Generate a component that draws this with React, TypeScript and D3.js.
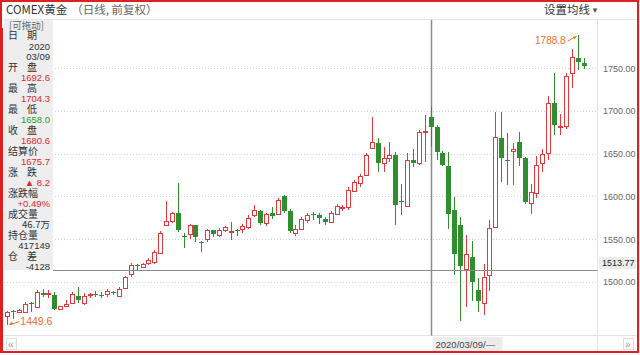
import React from 'react';
import * as d3 from 'd3';

const dates = [
  '2019-11-25','2019-11-26','2019-11-27','2019-11-29','2019-12-02','2019-12-03','2019-12-04','2019-12-05','2019-12-06',
  '2019-12-09','2019-12-10','2019-12-11','2019-12-12','2019-12-13','2019-12-16','2019-12-17','2019-12-18','2019-12-19',
  '2019-12-20','2019-12-23','2019-12-24','2019-12-26','2019-12-27','2019-12-30','2019-12-31','2020-01-02','2020-01-03',
  '2020-01-06','2020-01-07','2020-01-08','2020-01-09','2020-01-10','2020-01-13','2020-01-14','2020-01-15','2020-01-16',
  '2020-01-17','2020-01-20','2020-01-21','2020-01-22','2020-01-23','2020-01-24','2020-01-27','2020-01-28','2020-01-29',
  '2020-01-30','2020-01-31','2020-02-03','2020-02-04','2020-02-05','2020-02-06','2020-02-07','2020-02-10','2020-02-11',
  '2020-02-12','2020-02-13','2020-02-14','2020-02-17','2020-02-18','2020-02-19','2020-02-20','2020-02-21','2020-02-24',
  '2020-02-25','2020-02-26','2020-02-27','2020-02-28','2020-03-02','2020-03-03','2020-03-04','2020-03-05','2020-03-06',
  '2020-03-09','2020-03-10','2020-03-11','2020-03-12','2020-03-13','2020-03-16','2020-03-17','2020-03-18','2020-03-19',
  '2020-03-20','2020-03-23','2020-03-24','2020-03-25','2020-03-26','2020-03-27','2020-03-30','2020-03-31','2020-04-01',
  '2020-04-02','2020-04-03','2020-04-06','2020-04-07','2020-04-08','2020-04-09','2020-04-13','2020-04-14','2020-04-15',
];

const opens = [
  1459, 1466, 1465, 1465, 1475, 1471.5, 1487, 1486, 1485,
  1468, 1472, 1475, 1483, 1475, 1485, 1486, 1484, 1485,
  1488, 1484, 1492, 1508, 1520, 1518, 1521, 1523, 1534,
  1566, 1571, 1581, 1554, 1555, 1566, 1547, 1549, 1560,
  1555, 1560, 1558, 1561, 1561, 1565, 1578, 1583, 1568,
  1580, 1580, 1600, 1583, 1557, 1562, 1572, 1579, 1578,
  1574, 1571, 1580, 1586.5, 1587, 1607, 1616, 1625, 1657.5,
  1663, 1639, 1644, 1648, 1595, 1588, 1643, 1639, 1675,
  1692.6, 1681, 1651, 1635, 1584, 1566, 1515, 1529, 1490,
  1474, 1508, 1565, 1668, 1643, 1654, 1664, 1645, 1592,
  1604, 1639, 1650, 1709, 1681, 1682, 1745, 1762, 1756.5,
];
const highs = [
  1466, 1466.5, 1468, 1476, 1476, 1490, 1491, 1490, 1488,
  1472, 1478, 1488, 1494, 1487, 1487, 1489, 1488, 1491,
  1489, 1494, 1507, 1522, 1521, 1522, 1528, 1537, 1559,
  1594, 1582, 1616, 1557, 1568, 1567, 1548, 1562, 1561,
  1563, 1565, 1570, 1562, 1568, 1578, 1590, 1584, 1581,
  1587, 1598, 1601, 1585, 1566, 1576, 1580, 1582, 1581,
  1576, 1583, 1591, 1590, 1611, 1619, 1626, 1651, 1693,
  1668, 1658, 1664, 1652, 1615, 1651, 1655, 1678, 1695,
  1704.3, 1683, 1653, 1652, 1599, 1576, 1555, 1548, 1504,
  1521, 1572, 1699, 1699, 1674, 1662, 1675, 1646, 1614,
  1647, 1655, 1717, 1744, 1697, 1744, 1773, 1788.8, 1762,
];
const lows = [
  1449.6, 1456, 1464, 1463, 1464, 1470, 1482, 1481, 1467,
  1467, 1471, 1474, 1475.5, 1473, 1481, 1482, 1481, 1482,
  1485, 1483, 1491, 1506, 1514, 1517, 1519, 1521, 1533,
  1565, 1569, 1558.5, 1540, 1550, 1547, 1535, 1547, 1552,
  1552, 1558, 1549, 1553, 1557, 1562, 1576, 1567, 1565,
  1574, 1578, 1581, 1557, 1553, 1560, 1569, 1572, 1568,
  1566, 1569, 1578, 1583, 1584, 1605, 1611, 1624, 1657,
  1629, 1629, 1640, 1567, 1578, 1587, 1634.5, 1637, 1640,
  1658.0, 1643, 1635, 1562, 1508, 1454, 1470, 1477, 1464,
  1461, 1489, 1563, 1617, 1613, 1613, 1635, 1591, 1579,
  1598, 1628, 1642, 1672, 1672, 1679, 1727, 1748, 1749,
];
const closes = [
  1464, 1465.5, 1467, 1474, 1474, 1488.5, 1485, 1486.5, 1469,
  1471, 1474, 1486, 1478, 1483, 1485.5, 1485, 1483.5, 1489,
  1487, 1492, 1505, 1519, 1519, 1521, 1525, 1535, 1557,
  1571, 1580, 1561.5, 1553, 1566, 1552, 1546, 1560, 1555,
  1561, 1564, 1559, 1560, 1565, 1575, 1584, 1568.5, 1579,
  1576, 1596, 1583, 1560, 1562, 1574, 1578, 1578, 1574,
  1571, 1581, 1589, 1587, 1607, 1617, 1624, 1648, 1664,
  1639, 1645, 1648, 1590, 1594, 1642, 1640, 1675, 1676,
  1680.6, 1652, 1637, 1579, 1532, 1518, 1532, 1500, 1477,
  1505, 1563, 1670, 1645, 1642, 1656, 1645, 1594, 1605,
  1637, 1650, 1709, 1683, 1682.5, 1741, 1763.5, 1757, 1753.5,
];

const yTicks = [1500, 1550, 1600, 1650, 1700, 1750];
const crossDate = '2020-03-09';
const crossPrice = 1513.77;
const minLabel = '1449.6';
const maxLabel = '1788.8';

const panelRows = [
  { text: '[可拖动]', kind: 'hint' },
  { text: '日期', kind: 'label' },
  { text: '2020', kind: 'value', color: '#333' },
  { text: '03/09', kind: 'value', color: '#333' },
  { text: '开盘', kind: 'label' },
  { text: '1692.6', kind: 'value', color: '#e0282e' },
  { text: '最高', kind: 'label' },
  { text: '1704.3', kind: 'value', color: '#e0282e' },
  { text: '最低', kind: 'label' },
  { text: '1658.0', kind: 'value', color: '#2f9a2f' },
  { text: '收盘', kind: 'label' },
  { text: '1680.6', kind: 'value', color: '#e0282e' },
  { text: '结算价', kind: 'label' },
  { text: '1675.7', kind: 'value', color: '#e0282e' },
  { text: '涨跌', kind: 'label' },
  { text: '▲ 8.2', kind: 'value', color: '#e0282e' },
  { text: '涨跌幅', kind: 'label' },
  { text: '+0.49%', kind: 'value', color: '#e0282e' },
  { text: '成交量', kind: 'label' },
  { text: '46.7万', kind: 'value', color: '#333' },
  { text: '持仓量', kind: 'label' },
  { text: '417149', kind: 'value', color: '#333' },
  { text: '仓差', kind: 'label' },
  { text: '-4128', kind: 'value', color: '#333' },
];

const RED = '#e4393c';
const GREEN = '#2f8f2f';
const ORANGE = '#e8702a';
const CJK = '"Noto Sans CJK SC", "Liberation Sans", sans-serif';
const NUM = '"Liberation Sans", Arial, sans-serif';

export default function App() {
  const W = 640, H = 355;
  const x = d3.scalePoint<string>().domain(dates).range([7.3, 583.5]);
  const y = d3.scaleLinear().domain([1500, 1750]).range([281.7, 68.3]);

  const candles = dates.map((d, i) => {
    const o = opens[i], c = closes[i], h = highs[i], l = lows[i];
    const up = c >= o;
    const cx = Math.round(x(d) as number) + 0.5;
    const top = y(Math.max(o, c));
    const bot = y(Math.min(o, c));
    const bh = Math.max(1, bot - top);
    return (
      <g key={d}>
        <line x1={cx} x2={cx} y1={y(h)} y2={y(l)} stroke={up ? RED : GREEN} strokeWidth={1} />
        {up ? (
          <rect x={cx - 2} y={Math.round(top) + 0.5} width={4} height={Math.max(1, Math.round(bh))} fill="#fff" stroke={RED} strokeWidth={1} />
        ) : (
          <rect x={cx - 2.5} y={Math.round(top)} width={5} height={Math.max(1, Math.round(bh))} fill={GREEN} />
        )}
      </g>
    );
  });

  const iMin = lows.indexOf(d3.min(lows) as number);
  const iMax = highs.indexOf(d3.max(highs) as number);
  const minX = x(dates[iMin]) as number;
  const minY = y(lows[iMin]);
  const maxX = x(dates[iMax]) as number;
  const maxY = y(highs[iMax]);
  const crossX = Math.round(x(crossDate) as number) + 0.5;
  const crossY = Math.round(y(crossPrice)) + 0.5;

  const plotRight = 597.5;
  const plotBottom = 335.5;

  return (
    <svg width={W} height={H} style={{ position: 'absolute', left: 0, top: 0, background: '#fff' }}>
      {/* header */}
      <text x={6} y={14} fontFamily={CJK} fontSize={11.5} fill="#333">
        COMEX黄金<tspan fill="#666" dx={4}>（日线, 前复权）</tspan>
      </text>
      <text x={544} y={14} fontFamily={CJK} fontSize={11.5} fill="#333">设置均线</text>
      <text x={591} y={13} fontFamily={NUM} fontSize={8} fill="#555">▼</text>
      <line x1={3} x2={637} y1={19.5} y2={19.5} stroke="#e6e6e6" />

      {/* grid */}
      {yTicks.map(t => (
        <line key={t} x1={4} x2={plotRight} y1={Math.round(y(t)) + 0.5} y2={Math.round(y(t)) + 0.5}
          stroke="#cfcfcf" strokeDasharray="1,2" />
      ))}
      <line x1={plotRight} x2={plotRight} y1={20} y2={351} stroke="#e3e3e3" />
      <line x1={3} x2={637} y1={plotBottom} y2={plotBottom} stroke="#e3e3e3" />

      {/* right axis labels */}
      {yTicks.map(t => (
        <text key={t} x={603} y={y(t) + 3.5} fontFamily={NUM} fontSize={9} fill="#666">{t.toFixed(2)}</text>
      ))}

      {/* vertical crosshair */}
      <line x1={crossX} x2={crossX} y1={20} y2={plotBottom} stroke="#8a8a8a" strokeWidth={1.5} />

      {/* candles */}
      <g shapeRendering="crispEdges">{candles}</g>

      {/* horizontal crosshair */}
      <line x1={53} x2={plotRight} y1={crossY} y2={crossY} stroke="#8a8a8a" strokeWidth={1} />
      <rect x={599} y={257} width={37} height={12} fill="#ececec" />
      <text x={602} y={266} fontFamily={NUM} fontSize={9} fill="#222">{crossPrice.toFixed(2)}</text>

      {/* extreme labels */}
      <line x1={maxX - 10} x2={maxX - 1} y1={maxY + 6} y2={maxY + 1} stroke={ORANGE} strokeWidth={1} />
      <path d={`M${maxX - 1},${maxY + 1} l-4,0.5 l2,2.5 Z`} fill={ORANGE} />
      <text x={maxX - 12} y={maxY + 9} textAnchor="end" fontFamily={NUM} fontSize={10} fill={ORANGE}>{maxLabel}</text>
      <line x1={minX + 12} x2={minX + 2} y1={minY - 3} y2={minY} stroke={ORANGE} strokeWidth={1} />
      <path d={`M${minX + 2},${minY} l4,-0.5 l-2,-2.5 Z`} fill={ORANGE} />
      <text x={minX + 13} y={minY + 0.5} fontFamily={NUM} fontSize={10.5} fill={ORANGE}>{minLabel}</text>

      {/* info panel */}
      <rect x={4} y={20} width={49} height={250} fill="#eeeeee" />
      {panelRows.map((r, k) => {
        const cy = 25 + 10.5 * k + 3.5;
        if (r.kind === 'hint') {
          return <text key={k} x={9} y={cy} fontFamily={CJK} fontSize={9.5} fill="#666">{r.text}</text>;
        }
        if (r.kind === 'label') {
          if (r.text.length === 2) {
            return (
              <g key={k}>
                <text x={8} y={cy} fontFamily={CJK} fontSize={10} fill="#333">{r.text[0]}</text>
                <text x={27} y={cy} fontFamily={CJK} fontSize={10} fill="#333">{r.text[1]}</text>
              </g>
            );
          }
          return <text key={k} x={8} y={cy} fontFamily={CJK} fontSize={10} fill="#333">{r.text}</text>;
        }
        return <text key={k} x={50} y={cy} textAnchor="end" fontFamily={r.text.includes('万') ? CJK : NUM} fontSize={9.5} fill={r.color}>{r.text}</text>;
      })}

      {/* bottom bar */}
      <rect x={crossX + 1} y={337} width={70} height={15} fill="#ececec" />
      <text x={crossX + 4} y={348} fontFamily={NUM} fontSize={9.5} fill="#444">2020/03/09/—</text>
      <rect x={6.5} y={338.5} width={10} height={11} fill="#fff" stroke="#ddd" />
      <text x={8} y={348} fontFamily={NUM} fontSize={10} fill="#999">«</text>
      <rect x={623.5} y={338.5} width={10} height={11} fill="#fff" stroke="#ddd" />
      <text x={625} y={348} fontFamily={NUM} fontSize={10} fill="#999">»</text>

      {/* red frame */}
      <rect x={1} y={1} width={637} height={351} fill="none" stroke="#e02020" strokeWidth={2} />
      <rect x={0} y={28} width={3} height={325} fill="#e02020" />
    </svg>
  );
}
